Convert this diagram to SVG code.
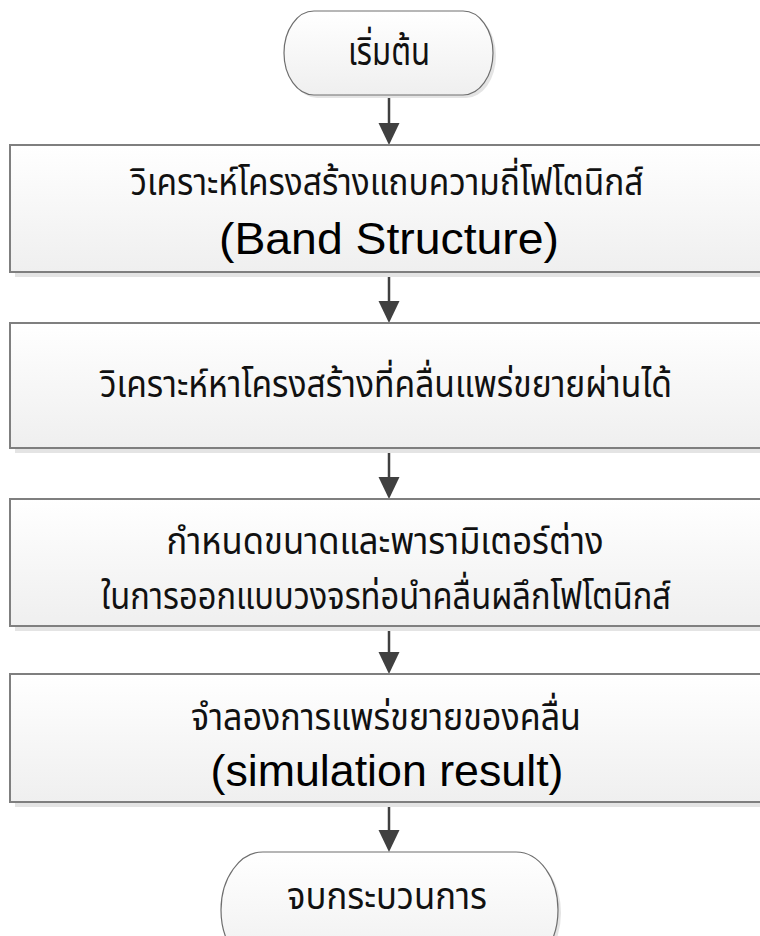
<svg xmlns="http://www.w3.org/2000/svg" width="760" height="936" viewBox="0 0 760 936">
<style>
.box{fill:url(#g);stroke:#7f7f7f;stroke-width:2}
.term{fill:url(#g);stroke:#6e6e6e;stroke-width:1.2}
.sh{fill:#e4e4e4}
.th{font-family:"Noto Sans Thai","Noto Sans Thai Looped","Loma","Garuda","Noto Sans","DejaVu Sans",sans-serif;font-size:37px;fill:#111;text-anchor:middle}
.en{font-family:"Liberation Sans","Noto Sans",sans-serif;font-size:44px;fill:#000;text-anchor:middle}
.con line{stroke:#404040;stroke-width:2.5}
</style>
<defs>
<linearGradient id="g" x1="0" y1="0" x2="0" y2="1">
<stop offset="0" stop-color="#ffffff"/>
<stop offset="1" stop-color="#efefef"/>
</linearGradient>
<marker id="ah" markerUnits="userSpaceOnUse" markerWidth="22" markerHeight="22" refX="8" refY="10.5" orient="auto">
<path d="M0,0 L22,10.5 L0,21 z" fill="#404040"/>
</marker>
</defs>
<g id="connectors" class="con">
<line x1="389" y1="95" x2="389" y2="131" marker-end="url(#ah)"/>
<line x1="389" y1="272" x2="389" y2="309" marker-end="url(#ah)"/>
<line x1="389" y1="448" x2="389" y2="485" marker-end="url(#ah)"/>
<line x1="389" y1="626" x2="389" y2="660" marker-end="url(#ah)"/>
<line x1="389" y1="802" x2="389" y2="838" marker-end="url(#ah)"/>
</g>
<g id="start">
<rect class="sh" x="287" y="14" width="209" height="84" rx="30" ry="42"/>
<rect class="term" x="284" y="11" width="209" height="84" rx="30" ry="42"/>
<text class="th" x="389" y="65" textLength="82" lengthAdjust="spacingAndGlyphs" style="font-size:40px">เริ่มต้น</text>
</g>
<g id="step1">
<rect class="sh" x="15" y="150" width="760" height="127"/>
<rect class="box" x="10" y="145" width="760" height="127"/>
<text class="th" x="387" y="195" textLength="513" lengthAdjust="spacingAndGlyphs">วิเคราะห์โครงสร้างแถบความถี่โฟโตนิกส์</text>
<text class="en" x="389" y="254" textLength="340" lengthAdjust="spacingAndGlyphs">(Band Structure)</text>
</g>
<g id="step2">
<rect class="sh" x="15" y="328" width="760" height="125"/>
<rect class="box" x="10" y="323" width="760" height="125"/>
<text class="th" x="386" y="397" textLength="572" lengthAdjust="spacingAndGlyphs">วิเคราะห์หาโครงสร้างที่คลื่นแพร่ขยายผ่านได้</text>
</g>
<g id="step3">
<rect class="sh" x="15" y="504" width="760" height="127"/>
<rect class="box" x="10" y="499" width="760" height="127"/>
<text class="th" x="385" y="554" textLength="437" lengthAdjust="spacingAndGlyphs">กำหนดขนาดและพารามิเตอร์ต่าง</text>
<text class="th" x="386" y="609" textLength="570" lengthAdjust="spacingAndGlyphs">ในการออกแบบวงจรท่อนำคลื่นผลึกโฟโตนิกส์</text>
</g>
<g id="step4">
<rect class="sh" x="15" y="679" width="760" height="128"/>
<rect class="box" x="10" y="674" width="760" height="128"/>
<text class="th" x="386" y="730" textLength="390" lengthAdjust="spacingAndGlyphs">จำลองการแพร่ขยายของคลื่น</text>
<text class="en" x="387" y="786" textLength="353" lengthAdjust="spacingAndGlyphs">(simulation result)</text>
</g>
<g id="end">
<rect class="sh" x="224" y="855" width="337" height="116" rx="42" ry="58"/>
<rect class="term" x="221" y="852" width="337" height="116" rx="42" ry="58"/>
<text class="th" x="387" y="909" textLength="200" lengthAdjust="spacingAndGlyphs">จบกระบวนการ</text>
</g>
</svg>
